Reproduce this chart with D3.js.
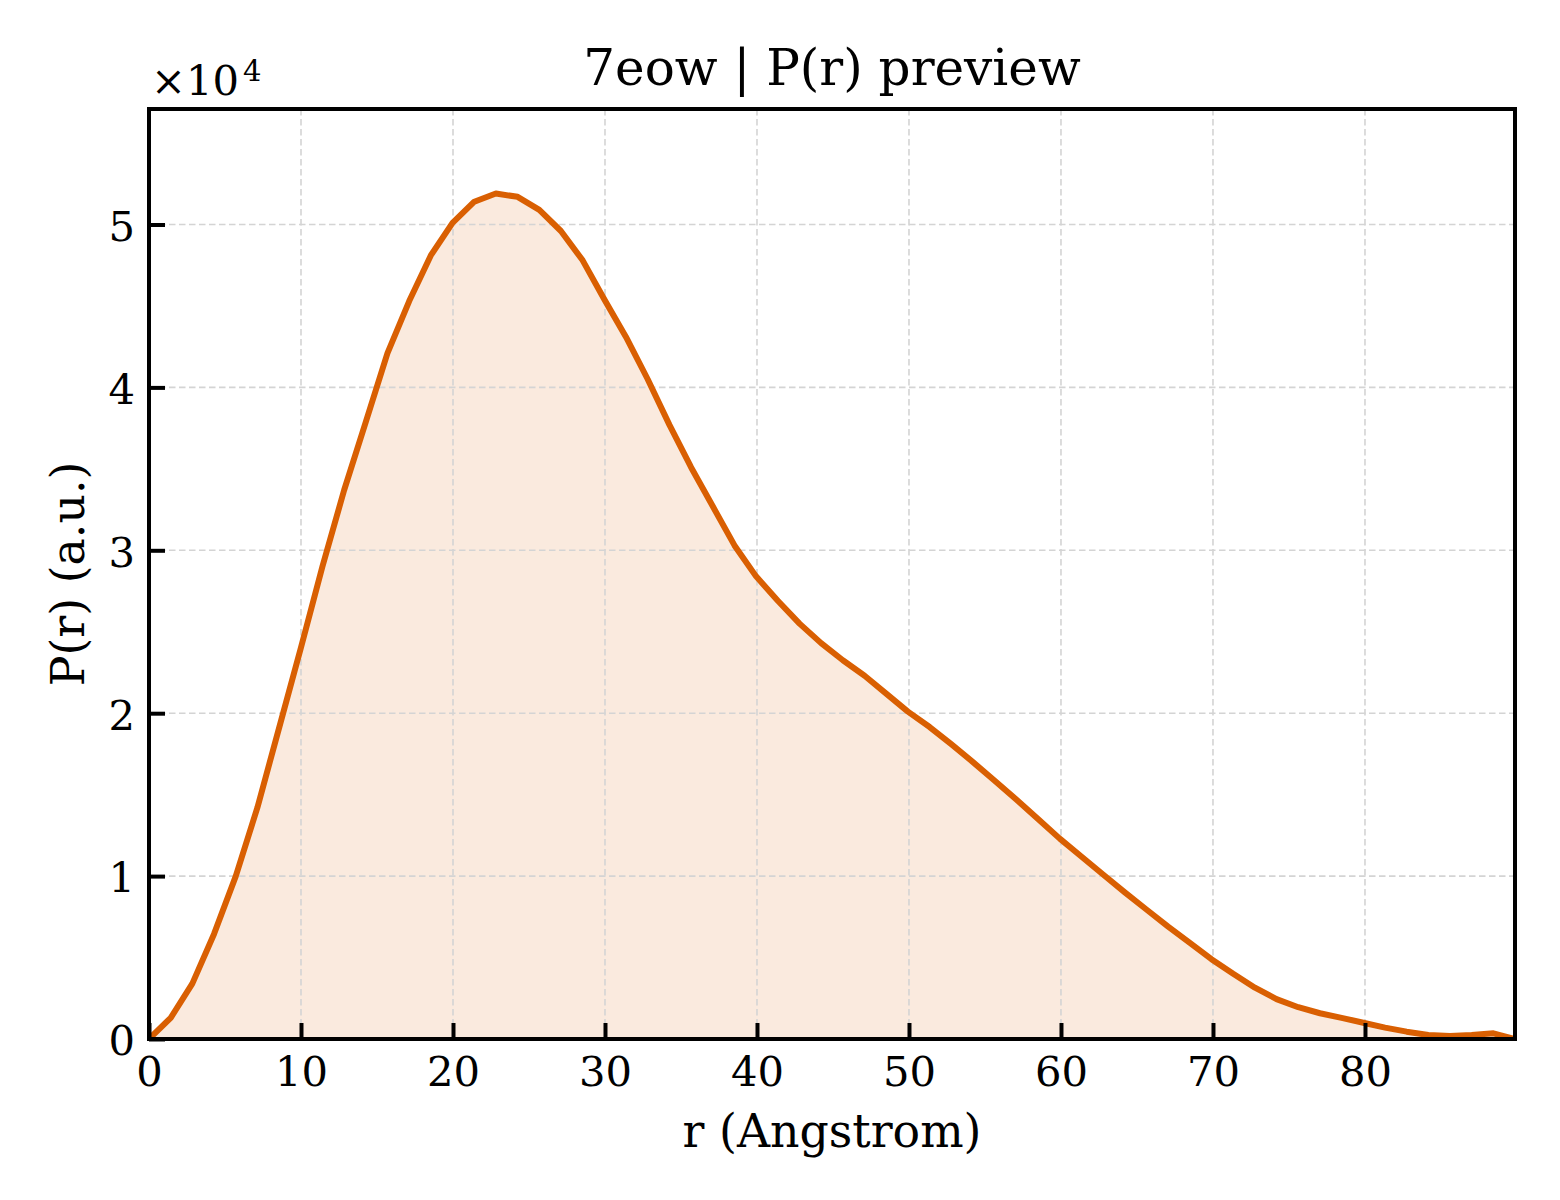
<!DOCTYPE html>
<html>
<head>
<meta charset="utf-8">
<script src="https://cdn.jsdelivr.net/npm/d3@7/dist/d3.min.js"></script>
<style>
  html, body { margin: 0; padding: 0; background: #ffffff; }
  svg { display: block; }
  text { font-family: "DejaVu Serif", serif; fill: #000; }
</style>
</head>
<body>
<svg id="chart" width="1560" height="1200"></svg>
<script>
// ---- data ----
const rValues = [0, 1.43, 2.85, 4.28, 5.71, 7.13, 8.56, 9.99, 11.41, 12.84, 14.27, 15.69, 17.12, 18.54, 19.97, 21.40,
  22.82, 24.25, 25.68, 27.10, 28.53, 29.96, 31.38, 32.81, 34.24, 35.66, 37.09, 38.52, 39.94, 41.37, 42.80, 44.22,
  45.65, 47.08, 48.50, 49.93, 51.36, 52.78, 54.21, 55.64, 57.06, 58.49, 59.92, 61.34, 62.77, 64.20, 65.62, 67.05,
  68.48, 69.90, 71.33, 72.76, 74.18, 75.61, 77.04, 78.46, 79.89, 81.32, 82.74, 84.17, 85.59, 87.02, 88.45, 89.87];
const pValues = [0, 1300, 3400, 6450, 10000, 14200, 19100, 24000, 29000, 33700, 37900, 42100, 45300, 48100, 50100, 51400,
  51900, 51700, 50900, 49600, 47800, 45400, 43100, 40500, 37700, 35100, 32700, 30300, 28400, 26900, 25500, 24300,
  23250, 22300, 21200, 20100, 19150, 18100, 17000, 15850, 14700, 13500, 12300, 11200, 10100, 9000, 7950, 6900,
  5900, 4900, 4000, 3150, 2450, 1950, 1580, 1300, 1000, 700, 450, 250, 180, 250, 350, 0];
const xTicks = [0, 10, 20, 30, 40, 50, 60, 70, 80];
const yTicks = [0, 10000, 20000, 30000, 40000, 50000];
const titleText = "7eow | P(r) preview";
const xLabelText = "r (Angstrom)";
const yLabelText = "P(r) (a.u.)";
const yScaleExponent = 4;

// ---- layout ----
const plot = { left: 149, right: 1515, top: 109, bottom: 1039 };
const lineColor = "#d95f02";
const fillColor = "rgba(217,95,2,0.13)";
const gridColor = "#d4d4d4";

const svg = d3.select("#chart");
const data = rValues.map((r, i) => ({ r, p: pValues[i] }));

const x = d3.scaleLinear().domain([0, d3.max(rValues)]).range([plot.left, plot.right]);
const y = d3.scaleLinear().domain([0, d3.max(pValues) * 1.1]).range([plot.bottom, plot.top]);

svg.append("defs").append("clipPath").attr("id", "clip")
  .append("rect")
  .attr("x", plot.left).attr("y", plot.top)
  .attr("width", plot.right - plot.left).attr("height", plot.bottom - plot.top);

// fill
svg.append("path")
  .datum(data)
  .attr("clip-path", "url(#clip)")
  .attr("fill", fillColor)
  .attr("d", d3.area().x(d => x(d.r)).y0(y(0)).y1(d => y(d.p)));

// grid
const grid = svg.append("g").attr("clip-path", "url(#clip)");
grid.selectAll("line.gx").data(xTicks).join("line")
  .attr("x1", d => x(d)).attr("x2", d => x(d))
  .attr("y1", plot.top).attr("y2", plot.bottom)
  .attr("stroke", gridColor).attr("stroke-width", 1.6).attr("stroke-dasharray", "6.5,3.5");
grid.selectAll("line.gy").data(yTicks).join("line")
  .attr("y1", d => y(d)).attr("y2", d => y(d))
  .attr("x1", plot.left).attr("x2", plot.right)
  .attr("stroke", gridColor).attr("stroke-width", 1.6).attr("stroke-dasharray", "6.5,3.5");

// line
svg.append("path")
  .datum(data)
  .attr("clip-path", "url(#clip)")
  .attr("fill", "none")
  .attr("stroke", lineColor)
  .attr("stroke-width", 6)
  .attr("stroke-linejoin", "round")
  .attr("d", d3.line().x(d => x(d.r)).y(d => y(d.p)));

// axes (ticks inward)
const tickFont = 41.7;
const xAxis = d3.axisBottom(x).tickValues(xTicks).tickFormat(d3.format("d"))
  .tickSizeInner(-16).tickSizeOuter(0).tickPadding(17);
const gx = svg.append("g").attr("transform", `translate(0,${plot.bottom})`).call(xAxis);
gx.select(".domain").remove();
gx.selectAll(".tick line").attr("stroke", "#000").attr("stroke-width", 4);
gx.selectAll(".tick text").attr("font-size", tickFont).attr("font-family", "DejaVu Serif").attr("fill", "#000");

const yAxis = d3.axisLeft(y).tickValues(yTicks).tickFormat(d => d3.format("d")(d / Math.pow(10, yScaleExponent)))
  .tickSizeInner(-16).tickSizeOuter(0).tickPadding(14);
const gy = svg.append("g").attr("transform", `translate(${plot.left},0)`).call(yAxis);
gy.select(".domain").remove();
gy.selectAll(".tick line").attr("stroke", "#000").attr("stroke-width", 4);
gy.selectAll(".tick text").attr("font-size", tickFont).attr("font-family", "DejaVu Serif").attr("fill", "#000")
  .attr("dy", "0.38em");

// spines
svg.append("rect")
  .attr("x", plot.left).attr("y", plot.top)
  .attr("width", plot.right - plot.left).attr("height", plot.bottom - plot.top)
  .attr("fill", "none").attr("stroke", "#000").attr("stroke-width", 4);

// offset text
const off = svg.append("text")
  .attr("x", plot.left + 2).attr("y", 95)
  .attr("font-size", tickFont);
off.append("tspan").text("\u00d710");
off.append("tspan").attr("font-size", 29).attr("dy", -14).attr("dx", 4).text(String(yScaleExponent));

// title
svg.append("text")
  .attr("x", (plot.left + plot.right) / 2).attr("y", 85)
  .attr("text-anchor", "middle").attr("font-size", 50)
  .text(titleText);

// axis labels
svg.append("text")
  .attr("x", (plot.left + plot.right) / 2).attr("y", 1147)
  .attr("text-anchor", "middle").attr("font-size", 45.8)
  .text(xLabelText);

svg.append("text")
  .attr("transform", `translate(84,${(plot.top + plot.bottom) / 2}) rotate(-90)`)
  .attr("text-anchor", "middle").attr("font-size", 45.8)
  .text(yLabelText);
</script>
</body>
</html>
